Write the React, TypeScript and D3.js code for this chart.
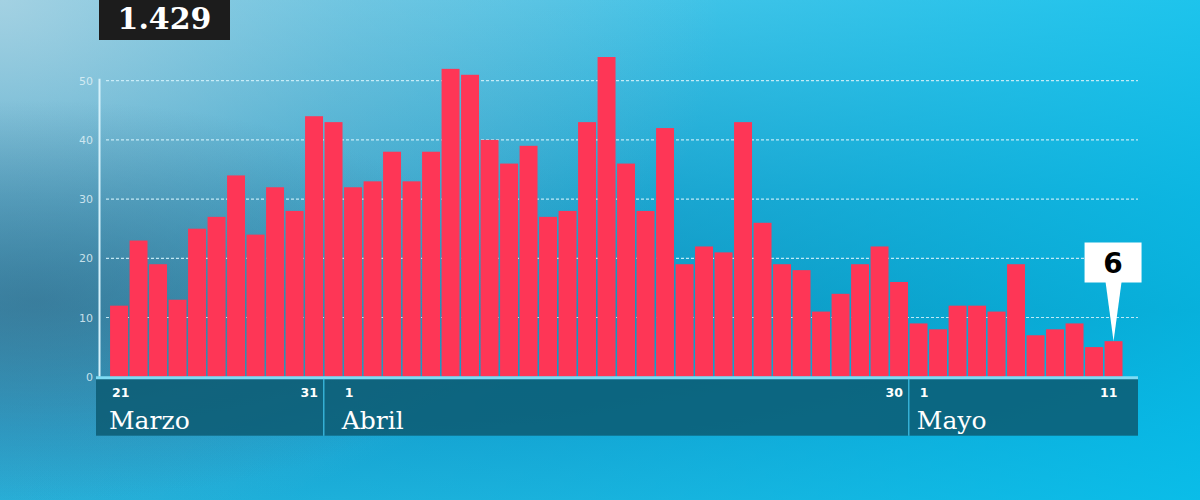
import React from "react";
import * as d3 from "d3";

// daily deaths, 21 Mar - 11 May
const marzo = [12, 23, 19, 13, 25, 27, 34, 24, 32, 28, 44];
const abril = [
  43, 32, 33, 38, 33, 38, 52, 51, 40, 36, 39, 27, 28, 43, 54, 36, 28, 42, 19,
  22, 21, 43, 26, 19, 18, 11, 14, 19, 22, 16,
];
const mayo = [9, 8, 12, 12, 11, 19, 7, 8, 9, 5, 6];

const months = [
  { name: "Marzo", first: 21, values: marzo },
  { name: "Abril", first: 1, values: abril },
  { name: "Mayo", first: 1, values: mayo },
];
const yTicks = [0, 10, 20, 30, 40, 50];
const total = "1.429";

type Day = { key: string; month: number; day: number; value: number };

const days: Day[] = [];
months.forEach((m, mi) => {
  m.values.forEach((v, i) => {
    days.push({ key: `${mi}-${m.first + i}`, month: mi, day: m.first + i, value: v });
  });
});

const W = 1200;
const H = 500;
const margin = { left: 109.3, right: 76.7, top: 80.7, bottom: 123.3 };
// label indent inside each month block
const labelIndent = [13, 18, 8];

const App: React.FC = () => {
  const x = d3
    .scaleBand<string>()
    .domain(days.map((d) => d.key))
    .range([margin.left, W - margin.right])
    .paddingInner(0.08)
    .paddingOuter(0.04);

  const y = d3.scaleLinear().domain([0, 50]).range([H - margin.bottom, margin.top]);
  const y0 = y(0);
  const step = x.step();
  const gap = step - x.bandwidth();

  // month blocks along the bottom band
  const blocks = months.map((m, mi) => {
    const md = days.filter((d) => d.month === mi);
    const first = md[0];
    const last = md[md.length - 1];
    const x0 = mi === 0 ? 96 : x(first.key)! - gap / 2;
    const x1 = mi === months.length - 1 ? 1138 : x(last.key)! + x.bandwidth() + gap / 2;
    return { m, mi, first, last, x0, x1 };
  });

  const lastDay = days[days.length - 1];
  const lx = x(lastDay.key)! + x.bandwidth() / 2;
  const ly = y(lastDay.value);

  return (
    <div style={{ position: "fixed", left: 0, top: 0 }}>
      <svg width={W} height={H} style={{ display: "block" }}>
        <defs>
          <linearGradient id="bgV" x1="0" y1="0" x2="0" y2="1">
            <stop offset="0%" stopColor="#62c3e3" />
            <stop offset="40%" stopColor="#2796c0" />
            <stop offset="62%" stopColor="#1784ad" />
            <stop offset="85%" stopColor="#1a9ccb" />
            <stop offset="100%" stopColor="#22acd6" />
          </linearGradient>
          <linearGradient id="bgH" x1="0" y1="0" x2="1" y2="0">
            <stop offset="0%" stopColor="#00c6f0" stopOpacity={0} />
            <stop offset="45%" stopColor="#00c2ee" stopOpacity={0.25} />
            <stop offset="100%" stopColor="#00c4f0" stopOpacity={0.7} />
          </linearGradient>
          <radialGradient id="bgTL" cx="0" cy="0" r="0.6" gradientTransform="scale(1,1.8)">
            <stop offset="0%" stopColor="#b9d6e2" stopOpacity={0.75} />
            <stop offset="50%" stopColor="#a3c9da" stopOpacity={0.35} />
            <stop offset="100%" stopColor="#a3c9da" stopOpacity={0} />
          </radialGradient>
          <radialGradient id="bgDark" cx="0.03" cy="0.6" r="0.4">
            <stop offset="0%" stopColor="#336a88" stopOpacity={0.6} />
            <stop offset="100%" stopColor="#336a88" stopOpacity={0} />
          </radialGradient>
        </defs>

        <rect width={W} height={H} fill="url(#bgV)" />
        <rect width={W} height={H} fill="url(#bgH)" />
        <rect width={W} height={H} fill="url(#bgTL)" />
        <rect width={W} height={H} fill="url(#bgDark)" />

        {/* total box */}
        <rect x={99} y={0} width={131} height={40} fill="#1c1c1c" />
        <text
          x={164.5}
          y={29}
          textAnchor="middle"
          fill="#ffffff"
          fontFamily="'DejaVu Serif', serif"
          fontWeight="bold"
          fontSize={30}
        >
          {total}
        </text>

        {/* grid */}
        {yTicks
          .filter((t) => t > 0)
          .map((t) => (
            <line
              key={t}
              x1={106}
              x2={1138}
              y1={y(t)}
              y2={y(t)}
              stroke="#d2f1fb"
              strokeOpacity={0.9}
              strokeWidth={1.2}
              strokeDasharray="3,2"
            />
          ))}
        {yTicks.map((t) => (
          <text
            key={t}
            x={93}
            y={y(t) + 4}
            textAnchor="end"
            fill="#e0f2f8"
            fillOpacity={0.85}
            fontFamily="'DejaVu Sans', sans-serif"
            fontSize={11}
          >
            {t}
          </text>
        ))}
        <line x1={99.5} x2={99.5} y1={y(50) - 2} y2={y0} stroke="#d6f2fb" strokeWidth={2} />

        {/* bars */}
        {days.map((d) => (
          <rect
            key={d.key}
            x={x(d.key)!}
            y={y(d.value)}
            width={x.bandwidth()}
            height={y0 - y(d.value)}
            fill="#fe3656"
          />
        ))}

        {/* bottom band */}
        <rect x={96} y={y0 + 2} width={1042} height={57} fill="#0c5a72" fillOpacity={0.85} />
        <line x1={96} x2={1138} y1={y0 + 1} y2={y0 + 1} stroke="#7fdcf5" strokeWidth={3} />
        {blocks.map((b) => (
          <g key={b.m.name}>
            {b.mi > 0 && (
              <line x1={b.x0} x2={b.x0} y1={y0 + 2} y2={y0 + 59} stroke="#3fc3ea" strokeWidth={1.2} />
            )}
            <text
              x={b.x0 + labelIndent[b.mi] + 3}
              y={y0 + 20}
              fill="#ffffff"
              fontFamily="'DejaVu Sans', sans-serif"
              fontWeight="bold"
              fontSize={12.5}
            >
              {b.first.day}
            </text>
            <text
              x={x(b.last.key)! + x.bandwidth() - 5}
              y={y0 + 20}
              textAnchor="end"
              fill="#ffffff"
              fontFamily="'DejaVu Sans', sans-serif"
              fontWeight="bold"
              fontSize={12.5}
            >
              {b.last.day}
            </text>
            <text
              x={b.x0 + labelIndent[b.mi]}
              y={y0 + 52}
              fill="#ffffff"
              fontFamily="'DejaVu Serif', serif"
              fontSize={25}
            >
              {b.m.name}
            </text>
          </g>
        ))}

        {/* last value callout */}
        <path d={`M${lx - 8},${282} L${lx + 8},${282} L${lx},${ly} Z`} fill="#ffffff" />
        <rect x={lx - 29} y={242.5} width={57} height={40} fill="#ffffff" />
        <text
          x={lx - 0.5}
          y={273}
          textAnchor="middle"
          fill="#000000"
          fontFamily="'DejaVu Sans', sans-serif"
          fontWeight="bold"
          fontSize={28}
        >
          {lastDay.value}
        </text>
      </svg>
    </div>
  );
};

export default App;
